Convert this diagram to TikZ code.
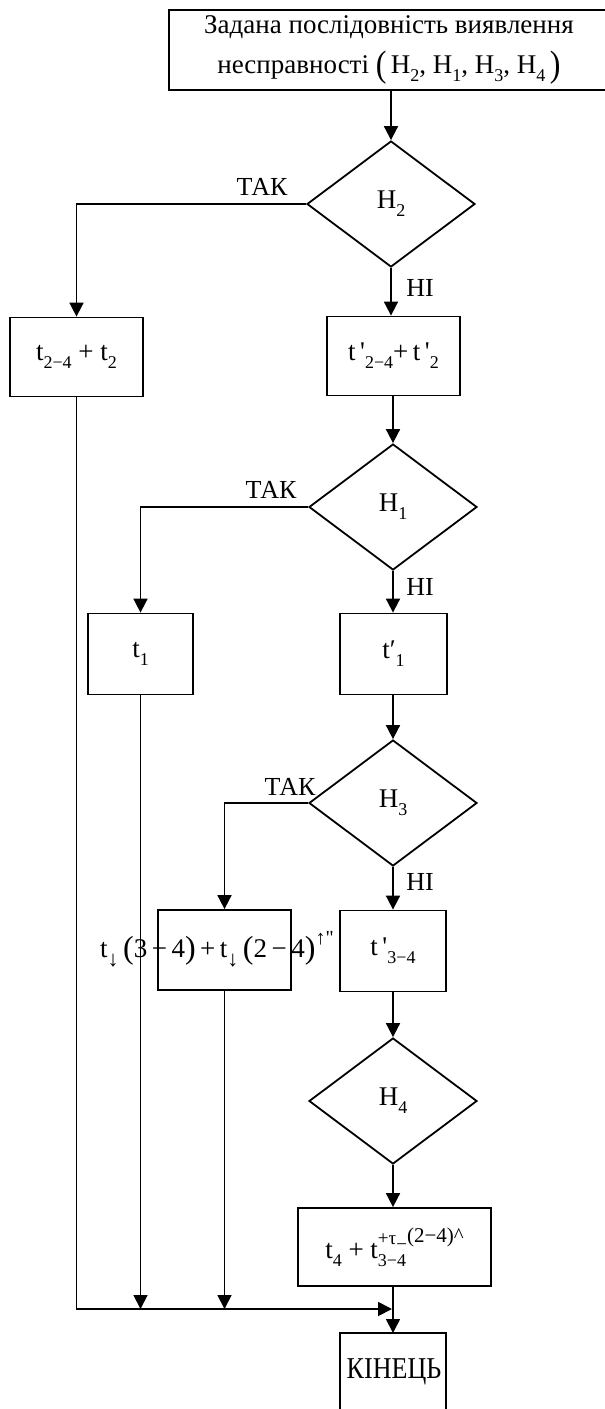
\documentclass[tikz,border=0pt]{standalone}
\usepackage{fontspec}
\setmainfont{Liberation Serif}[Ligatures=TeXOff]
\usetikzlibrary{shapes.geometric,arrows.meta}
\newcommand{\sbx}[1]{\raisebox{-0.3em}{\fontsize{18}{18}\selectfont #1}}
\newcommand{\spx}[1]{\raisebox{0.5em}{\fontsize{18}{18}\selectfont #1}}
\newcommand{\bpar}[1]{\raisebox{-0.06em}{\fontsize{32}{32}\selectfont #1}}
\newcommand{\tpar}[1]{\raisebox{-0.1em}{\scalebox{1}[1.15]{\fontsize{32}{32}\selectfont #1}}}
\newcommand{\dn}{\raisebox{-0.35em}{\fontsize{22}{22}\selectfont ↓}}
\begin{document}
\begin{tikzpicture}[x=1pt,y=-1pt,
  every node/.style={font=\fontsize{27}{40}\selectfont, inner sep=0pt},
  ln/.style={line width=1.8pt},
  blk/.style n args={2}{draw, line width=1.8pt, minimum width=#1, minimum height=#2},
  dia/.style={draw, diamond, line width=1.8pt, minimum width=168pt, minimum height=126pt},
  arr/.style={line width=1.8pt, -{Triangle[length=14pt,width=14pt]}},
  lbl/.style={font=\fontsize{26}{30}\selectfont}]
\useasboundingbox (0,0) rectangle (605,1409);

% top (open to the right)
\draw[ln] (607,10) -- (169,10) -- (169,90) -- (607,90);
\node[align=center] (top) at (389,50) {Задана послідовність виявлення\\несправності \tpar{(}\,H\sbx{2}, H\sbx{1}, H\sbx{3}, H\sbx{4}\,\tpar{)}};
\coordinate (topb) at (391,90);

% level H2
\node[dia] (d2) at (391,204) {H\sbx{2}};
\node[blk={133pt}{79pt}] (b2y) at (76.5,357) {t\sbx{2−4} + t\sbx{2}};
\node[blk={133pt}{79pt}] (b2n) at (393.5,356) {t\,'\sbx{2−4}+\,t\,'\sbx{2}};

% level H1
\node[dia] (d1) at (393,507) {H\sbx{1}};
\node[blk={105pt}{81pt}] (b1y) at (140.5,654) {t\sbx{1}};
\node[blk={107pt}{81pt}] (b1n) at (393.5,654) {t′\sbx{1}};

% level H3
\node[dia] (d3) at (393,803) {H\sbx{3}};
\node[blk={133pt}{80pt}] (b3y) at (224.5,950) {};
\node[anchor=base west] (b3t) at (100,957) {t\dn\,\bpar{(}3\,−\,4\bpar{)}\,+\,t\dn\,\bpar{(}2\,−\,4\bpar{)}\raisebox{0.45em}{\fontsize{20}{20}\selectfont ↑"}};
\node[blk={106pt}{81pt}] (b3n) at (393,951) {t\,'\sbx{3−4}\hspace{8pt}};

% level H4
\node[dia] (d4) at (393,1101) {H\sbx{4}};
\node[blk={193pt}{78pt}] (b4) at (394.5,1247) {t\sbx{4} + t\makebox[0pt][l]{\sbx{3−4}}\raisebox{0.52em}{\fontsize{19}{19}\selectfont +τ\raisebox{-0.35em}{−}\raisebox{0.12em}{\fontsize{21}{21}\selectfont(2−4)\textasciicircum}}\hspace{8pt}};

% end (open at the bottom)
\draw[ln] (340,1411) -- (340,1333) -- (446,1333) -- (446,1411);
\coordinate (endt) at (393,1333);
\node (end) at (394,1372) {\scalebox{0.93}[1.08]{\fontsize{28}{30}\selectfont КІНЕЦЬ}};

% connectors
\draw[arr] (topb) -- (d2.north);
\draw[arr] (d2.west) -| (b2y.north);
\draw[arr] (d2.south) -- (d2.south |- b2n.north);
\draw[arr] (b2n.south -| d1.north) -- (d1.north);
\draw[arr] (d1.west) -| (b1y.north);
\draw[arr] (d1.south) -- (d1.south |- b1n.north);
\draw[arr] (b1n.south -| d3.north) -- (d3.north);
\draw[arr] (d3.west) -| (b3y.north);
\draw[arr] (d3.south) -- (d3.south |- b3n.north);
\draw[arr] (b3n.south) -- (d4.north);
\draw[arr] (d4.south) -- (d4.south |- b4.north);
\draw[arr] (b4.south -| endt) -- (endt);

\coordinate (join) at (392,1309);
\draw[arr] (b2y.south) |- (join);
\draw[arr] (b1y.south) -- (b1y.south |- join);
\draw[arr] (b3y.south) -- (b3y.south |- join);

% labels
\node[lbl] (y2) at (262,187) {ТАК};
\node[lbl] (n2) at (420,288) {НІ};
\node[lbl] (y1) at (271,490) {ТАК};
\node[lbl] (n1) at (420,587) {НІ};
\node[lbl] (y3) at (290,787) {ТАК};
\node[lbl] (n3) at (420,882) {НІ};
\end{tikzpicture}
\end{document}
